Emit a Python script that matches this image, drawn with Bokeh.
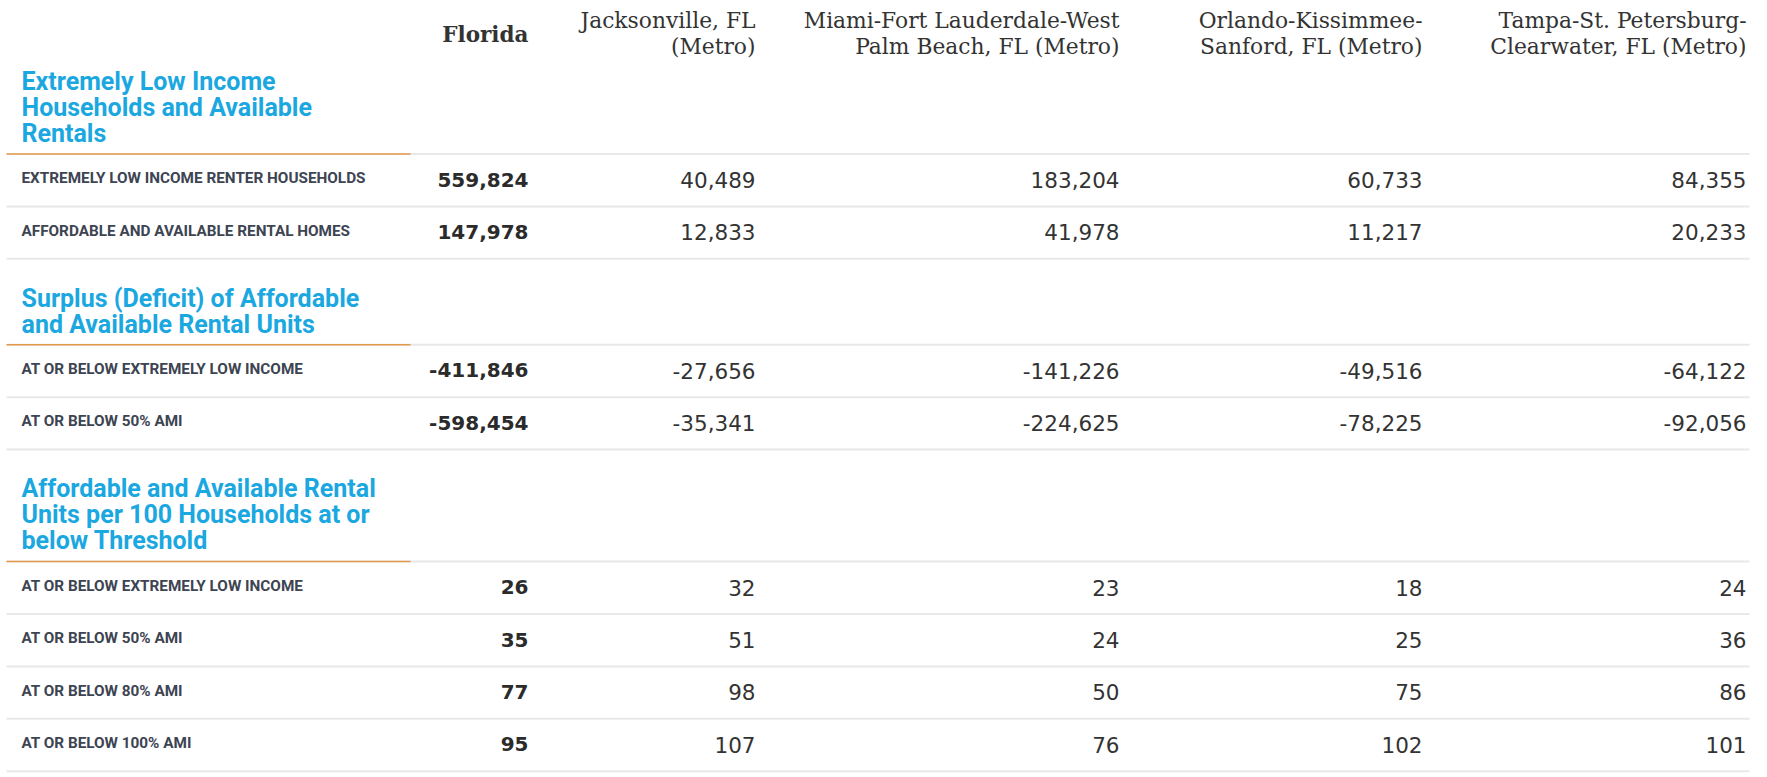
from bokeh.plotting import figure
from bokeh.models import Range1d, ColumnDataSource
from bokeh.embed import file_html
from bokeh.resources import INLINE
from bokeh.core.properties import value

# ---------------- data ----------------
header_lines = [
    ["Florida"],
    ["Jacksonville, FL", "(Metro)"],
    ["Miami-Fort Lauderdale-West", "Palm Beach, FL (Metro)"],
    ["Orlando-Kissimmee-", "Sanford, FL (Metro)"],
    ["Tampa-St. Petersburg-", "Clearwater, FL (Metro)"],
]
section_titles = [
    ["Extremely Low Income", "Households and Available", "Rentals"],
    ["Surplus (Deficit) of Affordable", "and Available Rental Units"],
    ["Affordable and Available Rental", "Units per 100 Households at or", "below Threshold"],
]
row_labels = [
    "EXTREMELY LOW INCOME RENTER HOUSEHOLDS",
    "AFFORDABLE AND AVAILABLE RENTAL HOMES",
    "AT OR BELOW EXTREMELY LOW INCOME",
    "AT OR BELOW 50% AMI",
    "AT OR BELOW EXTREMELY LOW INCOME",
    "AT OR BELOW 50% AMI",
    "AT OR BELOW 80% AMI",
    "AT OR BELOW 100% AMI",
]
row_section = [0, 0, 1, 1, 2, 2, 2, 2]
florida = [559824, 147978, -411846, -598454, 26, 35, 77, 95]
jacksonville = [40489, 12833, -27656, -35341, 32, 51, 98, 107]
miami = [183204, 41978, -141226, -224625, 23, 24, 50, 76]
orlando = [60733, 11217, -49516, -78225, 18, 25, 75, 102]
tampa = [84355, 20233, -64122, -92056, 24, 36, 86, 101]
columns = [florida, jacksonville, miami, orlando, tampa]

# ---------------- layout ----------------
W, H = 1760, 775
col_right = [528, 755, 1119, 1422, 1746]
LEFT = 21
LINE_X0, LINE_X1, ORANGE_X1 = 6, 1749, 410
ROW_H = 52.4
TITLE_LH = 26
TXT_DY = -8  # text baseline correction

BLUE = "#1ba7e0"
ORANGE = "#e39a4c"
GRID = "#e8e8e8"
LABEL_C = "#3d4452"
VAL_C = "#333333"
HEAD_C = "#333333"

p = figure(width=W, height=H, x_range=Range1d(0, W), y_range=Range1d(H, 0),
           output_backend="svg", toolbar_location=None, min_border=0)
p.axis.visible = False
p.grid.visible = False
p.outline_line_color = None
p.background_fill_color = "white"
p.border_fill_color = "white"

# header
hx, hy, ht = [], [], []
for ci, lines in enumerate(header_lines):
    ys = [34] if len(lines) == 1 else [20 + i * TITLE_LH for i in range(len(lines))]
    for t, y in zip(lines, ys):
        hx.append(col_right[ci]); hy.append(y); ht.append(t)
fs_head = 21.8
src = ColumnDataSource(dict(x=hx[1:], y=[y + 0.36 * fs_head + TXT_DY for y in hy[1:]], t=ht[1:]))
p.text("x", "y", text="t", source=src, text_align="right", text_baseline="alphabetic",
       text_font=value("DejaVu Serif"), text_font_size=f"{fs_head}px", text_color=HEAD_C)
fs_fl = 21.5
src = ColumnDataSource(dict(x=hx[:1], y=[hy[0] + 0.36 * fs_fl + TXT_DY], t=ht[:1]))
p.text("x", "y", text="t", source=src, text_align="right", text_baseline="alphabetic",
       text_font=value("DejaVu Serif"), text_font_style="bold", text_font_size=f"{fs_fl}px", text_color=HEAD_C)

# vertical structure
gray_y, orange_y = [], []
title_x, title_y, title_t = [], [], []
row_y = []
top = 153.5 - (34 + TITLE_LH * len(section_titles[0]))
cur_section = -1
for ri, sec in enumerate(row_section):
    if sec != cur_section:
        cur_section = sec
        n = len(section_titles[sec])
        for i, t in enumerate(section_titles[sec]):
            title_x.append(LEFT); title_y.append(top + 38.5 + i * TITLE_LH); title_t.append(t)
        top = top + 34 + TITLE_LH * n
        gray_y.append(top); orange_y.append(top)
    row_y.append(top + ROW_H / 2)
    top += ROW_H
    gray_y.append(top)

p.segment(x0=[LINE_X0] * len(gray_y), y0=gray_y, x1=[LINE_X1] * len(gray_y), y1=gray_y,
          line_color=GRID, line_width=2)
p.segment(x0=[LINE_X0] * len(orange_y), y0=orange_y, x1=[ORANGE_X1] * len(orange_y), y1=orange_y,
          line_color=ORANGE, line_width=1.5)

fs_title = 25
src = ColumnDataSource(dict(x=title_x, y=[y + 0.355 * fs_title + TXT_DY for y in title_y], t=title_t))
p.text("x", "y", text="t", source=src, text_align="left", text_baseline="alphabetic",
       text_font=value("Roboto"), text_font_style="bold", text_font_size=f"{fs_title}px", text_color=BLUE)

fs_lab = 15.3
src = ColumnDataSource(dict(x=[LEFT] * len(row_labels), y=[y + 0.355 * fs_lab + TXT_DY + 0.5 for y in row_y], t=row_labels))
p.text("x", "y", text="t", source=src, text_align="left", text_baseline="alphabetic",
       text_font=value("Roboto"), text_font_style="bold", text_font_size=f"{fs_lab}px", text_color=LABEL_C)

# values
for ci, vals in enumerate(columns):
    bold = ci == 0
    fs = 20 if bold else 21.5
    src = ColumnDataSource(dict(x=[col_right[ci]] * len(vals), y=[y + 0.365 * fs + TXT_DY for y in row_y],
                                t=[f"{v:,}" for v in vals]))
    p.text("x", "y", text="t", source=src, text_align="right", text_baseline="alphabetic",
           text_font=value("DejaVu Sans"), text_font_style="bold" if bold else "normal",
           text_font_size=f"{fs}px", text_color="#2b2b2b" if bold else VAL_C)

open("out.html", "w").write(file_html(p, INLINE))
